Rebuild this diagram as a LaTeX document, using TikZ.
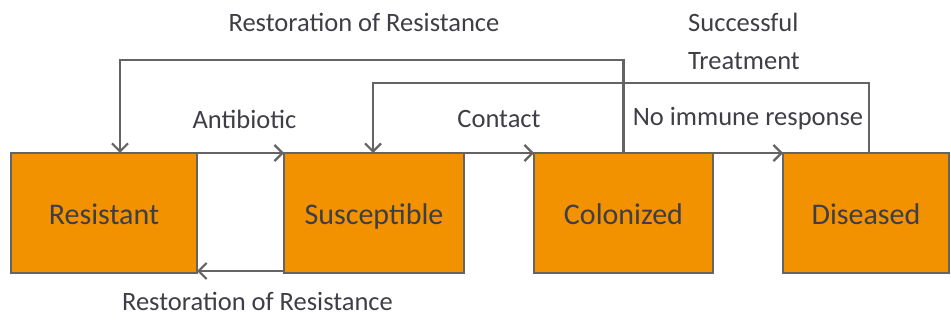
\documentclass[tikz,border=0pt]{standalone}
\usepackage{fontspec}
\setmainfont{Carlito}
\usetikzlibrary{arrows.meta}
\definecolor{boxorange}{RGB}{242,146,0}
\definecolor{linegray}{RGB}{100,100,100}
\definecolor{textgray}{RGB}{62,62,70}
\tikzset{
  state/.style={draw=linegray, line width=1.5pt, fill=boxorange, text=textgray,
    minimum height=120pt, outer sep=0pt, text height=24pt, text depth=0pt,
    font=\fontsize{30}{34}\selectfont},
  flow/.style={draw=linegray, line width=2.6pt,
    -{Straight Barb[length=8pt,width=16pt,line width=2.2pt]}},
  lbl/.style={text=textgray, font=\fontsize{26.5}{38}\selectfont}
}
\begin{document}
\begin{tikzpicture}[x=1pt,y=-1pt]
\useasboundingbox (0,0) rectangle (951,320);

\node[state, minimum width=186pt] (res) at (104,213) {Resistant};
\node[state, minimum width=180pt] (sus) at (374,213) {Susceptible};
\node[state, minimum width=179pt] (col) at (623.5,213) {Colonized};
\node[state, minimum width=166pt] (dis) at (866,213) {Diseased};

% forward arrows along the top edges
\draw[flow] (res.north east) -- (sus.north west)
  node[lbl, midway, yshift=34pt, xshift=4pt] {Antibiotic};
\draw[flow] (sus.north east) -- (col.north west)
  node[lbl, midway, yshift=34pt] {Contact};
\draw[flow] (col.north east) -- (dis.north west)
  node[lbl, midway, yshift=34pt] {No immune response};

% back arrow along the bottom
\draw[flow] ([yshift=2pt]sus.south west) -- ([yshift=2pt]res.south east)
  node[lbl, midway, yshift=-30pt, xshift=17pt] {Restoration of Resistance};

% long loops over the top
\coordinate (loopA) at (120,60);
\coordinate (loopB) at (373,83);
\draw[flow] (col.north) |- (loopA) -- (loopA |- res.north);
\draw[flow] ([xshift=3pt]dis.north) |- (loopB) -- (loopB |- sus.north);
\node[lbl] (restop) at (364,22) {Restoration of Resistance};
\node[lbl, align=left] (treat) at (744,41) {Successful\\Treatment};
\end{tikzpicture}
\end{document}
